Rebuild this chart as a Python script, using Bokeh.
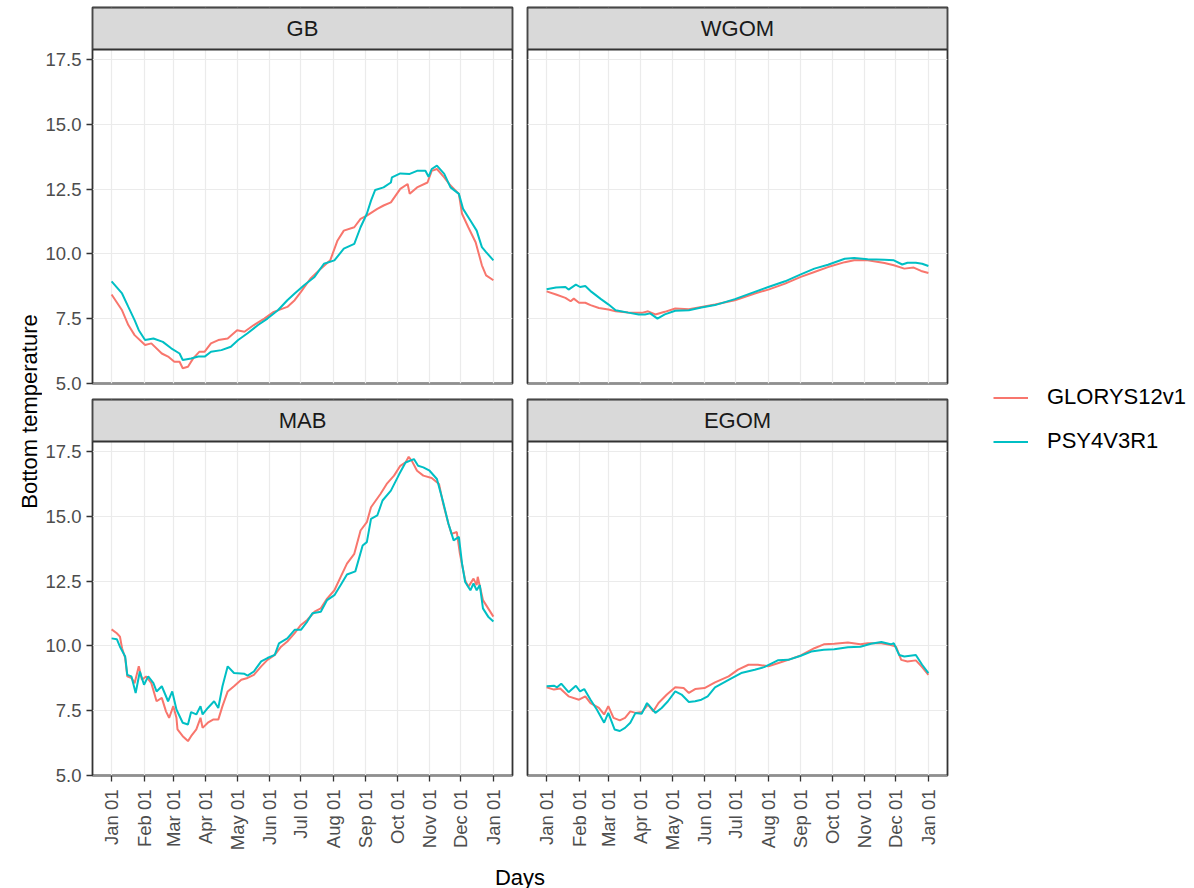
import math
from bokeh.plotting import figure
from bokeh.models import (Range1d, FixedTicker, BoxAnnotation, Label, Legend, LegendItem,
                          PrintfTickFormatter)
from bokeh.layouts import row, column
from bokeh.embed import file_html
from bokeh.resources import INLINE
from bokeh.core.properties import value

# ---------------- data ----------------
series_names = ["GLORYS12v1", "PSY4V3R1"]
series_colors = ["#F8766D", "#00BFC4"]
tick_days = [0, 31, 59, 90, 120, 151, 181, 212, 243, 273, 304, 334, 365]
tick_labels = ["Jan 01", "Feb 01", "Mar 01", "Apr 01", "May 01", "Jun 01", "Jul 01",
               "Aug 01", "Sep 01", "Oct 01", "Nov 01", "Dec 01", "Jan 01"]
y_ticks = [5.0, 7.5, 10.0, 12.5, 15.0, 17.5]
x_title = "Days"
y_title = "Bottom temperature"

gb_glorys_day = [0, 10, 16, 22, 32, 38, 48, 54, 60, 65, 68, 73, 78, 84, 89, 95, 102, 111, 120, 127,
                 136, 146, 155, 168, 175, 181, 190, 200, 209, 216, 222, 232, 238, 244, 254, 260,
                 267, 276, 283, 285, 292, 302, 306, 311, 318, 324, 332, 335, 341, 348, 354, 358, 365]
gb_glorys_temp = [8.43, 7.82, 7.25, 6.86, 6.48, 6.54, 6.15, 6.03, 5.83, 5.83, 5.58, 5.64, 5.96, 6.22,
                  6.22, 6.54, 6.67, 6.73, 7.05, 6.99, 7.25, 7.50, 7.76, 7.95, 8.21, 8.53, 9.04, 9.43,
                  9.75, 10.52, 10.90, 11.03, 11.35, 11.48, 11.74, 11.87, 11.99, 12.51, 12.70, 12.32,
                  12.57, 12.76, 13.21, 13.28, 12.96, 12.64, 12.32, 11.55, 11.03, 10.45, 9.56, 9.17, 8.98]
gb_psy_day = [0, 10, 16, 22, 26, 32, 40, 49, 57, 65, 68, 76, 83, 89, 95, 105, 114, 121, 130, 140,
              149, 159, 168, 175, 184, 194, 203, 213, 222, 232, 238, 244, 248, 252, 260, 267, 268,
              276, 285, 292, 300, 303, 306, 311, 318, 324, 332, 336, 343, 349, 354, 358, 365]
gb_psy_temp = [8.94, 8.47, 7.95, 7.44, 7.05, 6.67, 6.73, 6.60, 6.35, 6.15, 5.90, 5.96, 6.03, 6.03,
               6.22, 6.28, 6.41, 6.67, 6.93, 7.25, 7.50, 7.82, 8.21, 8.47, 8.79, 9.11, 9.62, 9.75,
               10.20, 10.39, 11.03, 11.55, 12.06, 12.47, 12.57, 12.76, 12.96, 13.11, 13.09, 13.21,
               13.21, 12.98, 13.28, 13.41, 13.09, 12.57, 12.32, 11.74, 11.29, 10.90, 10.26, 10.07, 9.75]

wgom_glorys_day = [0, 9, 18, 23, 26, 31, 37, 42, 50, 59, 66, 78, 91, 97, 104, 113, 123, 136, 148,
                   161, 180, 199, 212, 228, 243, 256, 269, 285, 294, 307, 323, 332, 342, 351, 358, 365]
wgom_glorys_temp = [8.55, 8.43, 8.30, 8.17, 8.27, 8.11, 8.11, 8.02, 7.91, 7.85, 7.78, 7.73, 7.72,
                    7.78, 7.66, 7.76, 7.89, 7.86, 7.95, 8.04, 8.21, 8.47, 8.62, 8.85, 9.11, 9.30,
                    9.49, 9.68, 9.75, 9.75, 9.65, 9.56, 9.43, 9.47, 9.34, 9.26]
wgom_psy_day = [0, 9, 18, 21, 28, 32, 37, 43, 52, 59, 66, 78, 88, 94, 99, 106, 113, 123, 136, 148,
                161, 180, 199, 212, 228, 243, 256, 269, 285, 294, 307, 323, 332, 340, 345, 353, 359, 365]
wgom_psy_temp = [8.63, 8.70, 8.72, 8.62, 8.81, 8.72, 8.76, 8.53, 8.25, 8.05, 7.82, 7.73, 7.66, 7.66,
                 7.70, 7.50, 7.66, 7.80, 7.82, 7.93, 8.02, 8.25, 8.53, 8.72, 8.94, 9.21, 9.43, 9.58,
                 9.81, 9.84, 9.79, 9.77, 9.75, 9.59, 9.66, 9.66, 9.62, 9.53]

mab_glorys_day = [0, 5, 8, 10, 13, 15, 19, 22, 26, 29, 33, 38, 43, 48, 52, 55, 59, 62, 63, 68,
                  73, 76, 81, 85, 87, 92, 97, 102, 106, 111, 117, 124, 130, 136, 143, 149, 156, 162,
                  168, 175, 181, 187, 194, 200, 206, 213, 219, 225, 232, 238, 244, 248, 257, 263,
                  270, 276, 281, 284, 287, 292, 298, 306, 313, 317, 322, 325, 330, 333, 338, 341,
                  346, 349, 350, 355, 360, 365]
mab_glorys_temp = [10.64, 10.49, 10.36, 9.91, 9.53, 8.82, 8.76, 8.56, 9.21, 8.69, 8.82, 8.56, 7.86,
                   7.99, 7.47, 7.22, 7.67, 7.22, 6.77, 6.51, 6.32, 6.51, 6.77, 7.22, 6.83, 7.03, 7.15,
                   7.15, 7.67, 8.24, 8.44, 8.69, 8.76, 8.88, 9.21, 9.46, 9.65, 9.97, 10.17, 10.49,
                   10.81, 11.00, 11.32, 11.45, 11.83, 12.15, 12.67, 13.18, 13.56, 14.46, 14.78, 15.36,
                   15.87, 16.26, 16.58, 16.96, 17.09, 17.31, 17.15, 16.77, 16.58, 16.49, 16.26, 15.49,
                   14.72, 14.33, 14.40, 13.56, 12.54, 12.28, 12.60, 12.35, 12.67, 11.77, 11.45, 11.13]
mab_psy_day = [0, 5, 8, 13, 15, 19, 23, 27, 31, 35, 40, 43, 48, 54, 58, 62, 68, 73, 76, 81, 85, 87,
               92, 98, 102, 106, 111, 117, 127, 130, 136, 143, 149, 156, 160, 168, 175, 181, 187,
               192, 200, 206, 213, 219, 225, 233, 240, 244, 248, 254, 259, 267, 275, 281, 289, 293,
               298, 304, 311, 317, 322, 327, 332, 335, 338, 343, 346, 349, 352, 355, 360, 365]
mab_psy_temp = [10.29, 10.26, 9.97, 9.59, 8.88, 8.82, 8.18, 9.01, 8.50, 8.82, 8.56, 8.24, 8.44, 7.86,
                8.24, 7.54, 7.03, 6.96, 7.44, 7.35, 7.67, 7.35, 7.60, 7.86, 7.60, 8.44, 9.21, 8.95,
                8.92, 8.85, 9.01, 9.40, 9.53, 9.65, 10.10, 10.29, 10.62, 10.62, 10.94, 11.26, 11.32,
                11.77, 11.96, 12.35, 12.76, 12.88, 13.88, 14.01, 14.91, 15.04, 15.62, 16.00, 16.64,
                17.09, 17.22, 16.96, 16.90, 16.77, 16.45, 15.55, 14.72, 14.08, 14.21, 13.18, 12.47,
                12.15, 12.41, 12.15, 12.35, 11.45, 11.13, 10.94]

egom_glorys_day = [0, 7, 13, 21, 31, 37, 42, 50, 55, 59, 64, 70, 75, 80, 85, 91, 97, 102, 107, 115,
                   123, 131, 136, 142, 151, 161, 174, 183, 193, 202, 212, 221, 231, 243, 256, 265,
                   275, 288, 300, 307, 320, 329, 334, 339, 345, 353, 359, 365]
egom_glorys_temp = [8.40, 8.31, 8.35, 8.05, 7.92, 8.05, 7.79, 7.60, 7.35, 7.67, 7.22, 7.12, 7.22,
                    7.47, 7.41, 7.44, 7.73, 7.47, 7.79, 8.12, 8.40, 8.37, 8.18, 8.33, 8.37, 8.59,
                    8.82, 9.08, 9.27, 9.27, 9.21, 9.33, 9.46, 9.63, 9.91, 10.06, 10.08, 10.13, 10.06,
                    10.10, 10.10, 10.03, 9.97, 9.46, 9.40, 9.44, 9.18, 8.88]
egom_psy_day = [0, 7, 10, 14, 21, 28, 32, 36, 42, 48, 55, 59, 65, 70, 75, 80, 85, 91, 96, 104, 110,
                116, 123, 129, 136, 142, 148, 154, 161, 174, 186, 199, 208, 221, 231, 243, 253, 265,
                275, 288, 300, 310, 320, 329, 332, 337, 342, 353, 359, 365]
egom_psy_temp = [8.44, 8.46, 8.40, 8.54, 8.21, 8.46, 8.24, 8.33, 7.92, 7.54, 7.03, 7.41, 6.77, 6.71,
                 6.83, 7.03, 7.41, 7.38, 7.79, 7.41, 7.60, 7.86, 8.24, 8.12, 7.83, 7.86, 7.92, 8.05,
                 8.40, 8.69, 8.95, 9.08, 9.18, 9.44, 9.46, 9.62, 9.78, 9.85, 9.87, 9.95, 9.97, 10.08,
                 10.15, 10.06, 10.10, 9.65, 9.59, 9.65, 9.27, 8.95]

panels = [
    ("GB", [(gb_glorys_day, gb_glorys_temp), (gb_psy_day, gb_psy_temp)]),
    ("WGOM", [(wgom_glorys_day, wgom_glorys_temp), (wgom_psy_day, wgom_psy_temp)]),
    ("MAB", [(mab_glorys_day, mab_glorys_temp), (mab_psy_day, mab_psy_temp)]),
    ("EGOM", [(egom_glorys_day, egom_glorys_temp), (egom_psy_day, egom_psy_temp)]),
]

# ---------------- geometry / style ----------------
FONT = "Liberation Sans"
FRAME_W = 420
PANEL_H = 334
STRIP_H = 42
FRAME_H = PANEL_H + STRIP_H
X_LO, X_HI = -18.25, 383.25
Y_LO, Y_HI = 4.99, 17.90
Y_TOP = Y_HI + STRIP_H * (Y_HI - Y_LO) / PANEL_H

TOP_BT, TOP_BB = 7, 12
BOT_BT, BOT_BB = 4, 76
TOP_H = TOP_BT + FRAME_H + TOP_BB
BOT_H = BOT_BT + FRAME_H + BOT_BB
DAYS_H = 36
TOTAL_H = TOP_H + BOT_H + DAYS_H
YT_W = 42
LEFT_W = 50 + FRAME_W + 7
RIGHT_W = 8 + FRAME_W + 5
LEG_W = 234


def make_panel(label, data, left_axis, bottom_axis, top_row):
    p = figure(frame_width=FRAME_W, frame_height=FRAME_H,
               x_range=Range1d(X_LO, X_HI), y_range=Range1d(Y_LO, Y_TOP),
               output_backend="svg", toolbar_location=None, tools="", title=None,
               min_border_left=50 if left_axis else 8,
               min_border_right=7 if left_axis else 5,
               min_border_top=TOP_BT if top_row else BOT_BT,
               min_border_bottom=BOT_BB if bottom_axis else TOP_BB)
    p.background_fill_color = "white"
    p.border_fill_color = "white"
    p.outline_line_color = "#333333"
    p.outline_line_width = 1.8
    p.outline_line_alpha = 1.0

    p.xgrid.ticker = FixedTicker(ticks=tick_days)
    p.ygrid.ticker = FixedTicker(ticks=y_ticks)
    for g in (p.xgrid, p.ygrid):
        g.grid_line_color = "#EBEBEB"
        g.grid_line_width = 1.2

    for ax in (p.xaxis, p.yaxis):
        ax.axis_line_color = None
        ax.major_tick_line_color = "#333333"
        ax.major_tick_line_width = 1.3
        ax.major_tick_out = 6
        ax.major_tick_in = 0
        ax.minor_tick_line_color = None
        ax.major_label_text_font = FONT
        ax.major_label_text_font_size = "18.5px"
        ax.major_label_text_color = "#4D4D4D"
    p.yaxis.major_label_standoff = 5
    p.xaxis.major_label_standoff = 8

    p.xaxis.ticker = FixedTicker(ticks=tick_days)
    p.xaxis.major_label_overrides = {d: l for d, l in zip(tick_days, tick_labels)}
    p.xaxis.major_label_orientation = math.pi / 2
    p.yaxis.ticker = FixedTicker(ticks=y_ticks)
    p.yaxis.formatter = PrintfTickFormatter(format="%.1f")
    p.xaxis.visible = bottom_axis
    p.yaxis.visible = left_axis

    for (days, temps), color in zip(data, series_colors):
        p.line(x=days, y=temps, line_color=color, line_width=2.0)

    strip = BoxAnnotation(bottom=Y_HI, top=Y_TOP, fill_color="#D9D9D9", fill_alpha=1.0,
                          line_color="#333333", line_width=1.8, line_alpha=1.0)
    p.add_layout(strip)
    p.add_layout(Label(x=(X_LO + X_HI) / 2, y=(Y_HI + Y_TOP) / 2, text=label,
                       text_align="center", text_baseline="middle", text_font=FONT,
                       text_font_size="22px", text_color="#1A1A1A"))
    return p


gb = make_panel(panels[0][0], panels[0][1], True, False, True)
wgom = make_panel(panels[1][0], panels[1][1], False, False, True)
mab = make_panel(panels[2][0], panels[2][1], True, True, False)
egom = make_panel(panels[3][0], panels[3][1], False, True, False)

# y axis title
yt = figure(width=YT_W, height=TOTAL_H, x_range=Range1d(0, YT_W), y_range=Range1d(0, TOTAL_H),
            x_axis_location=None, y_axis_location=None, min_border=0, title=None,
            output_backend="svg", toolbar_location=None, tools="", outline_line_color=None)
yt.grid.visible = False
yt.text(x=[29], y=[TOTAL_H - 411], text=[y_title], angle=math.pi / 2, text_align="center",
        text_baseline="middle", text_font=value(FONT), text_font_size="22px", text_color="black")

# x axis title
dw = LEFT_W + RIGHT_W
dt = figure(width=dw, height=DAYS_H, x_range=Range1d(0, dw), y_range=Range1d(0, DAYS_H),
            x_axis_location=None, y_axis_location=None, min_border=0, title=None,
            output_backend="svg", toolbar_location=None, tools="", outline_line_color=None)
dt.grid.visible = False
dt.text(x=[(50 + (LEFT_W + 8 + FRAME_W)) / 2], y=[12], text=[x_title], text_align="center",
        text_baseline="middle", text_font=value(FONT), text_font_size="22px", text_color="black")

# legend (keys drawn from dummy renderers outside the visible range)
lg = figure(width=LEG_W, height=TOTAL_H, x_range=Range1d(0, 1), y_range=Range1d(0, 1),
            x_axis_location=None, y_axis_location=None, min_border=0, title=None,
            output_backend="svg", toolbar_location=None, tools="", outline_line_color=None)
lg.grid.visible = False
items = []
for name, color in zip(series_names, series_colors):
    r = lg.line(x=[-5, -4], y=[-5, -4], line_color=color, line_width=2.0)
    items.append(LegendItem(label=name, renderers=[r]))
legend = Legend(items=items, location=(41, TOTAL_H - 454), orientation="vertical",
                glyph_width=35, glyph_height=25, label_height=25, label_standoff=19,
                spacing=18, padding=0, margin=0, border_line_color=None,
                background_fill_alpha=0, label_text_font=FONT, label_text_font_size="22px",
                label_text_color="black")
lg.add_layout(legend)

layout = row(yt, column(row(gb, wgom), row(mab, egom), dt), lg)

open("out.html", "w").write(file_html(layout, INLINE))
